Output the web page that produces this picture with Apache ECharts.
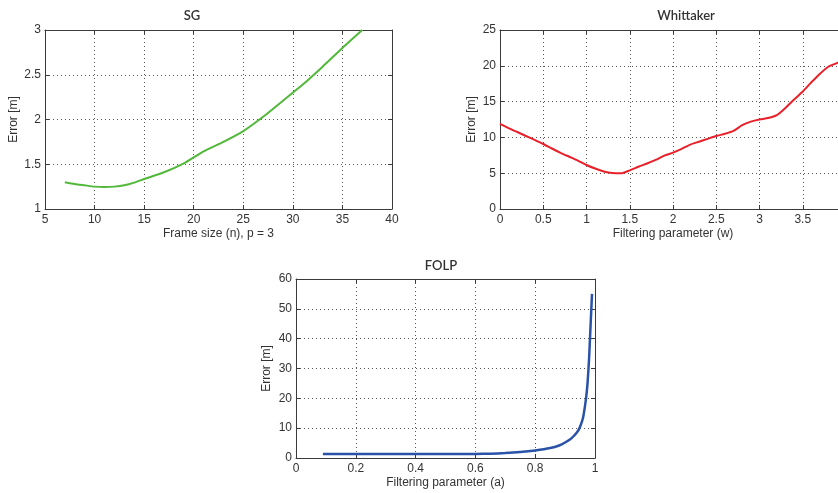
<!DOCTYPE html>
<html>
<head>
<meta charset="utf-8">
<script src="https://cdn.jsdelivr.net/npm/echarts@6/dist/echarts.min.js"></script>
<style>
  html, body { margin: 0; padding: 0; background: #fff; }
  #chart { width: 838px; height: 493px; }
</style>
</head>
<body>
<div id="chart"></div>
<script>
// Savitzky-Golay smoothing error vs. frame size (p = 3)
const sgFrame = [7, 8, 9, 10, 11, 12, 13, 14, 15, 17, 19, 21, 23, 25, 27, 29, 31, 33, 35, 37];
const sgError = [1.30, 1.28, 1.265, 1.25, 1.245, 1.25, 1.265, 1.295, 1.335, 1.41, 1.51, 1.645, 1.75, 1.87, 2.03, 2.21, 2.39, 2.59, 2.80, 3.00];

// Whittaker smoother error vs. filtering parameter w
const whW = [0, 0.1, 0.2, 0.3, 0.4, 0.5, 0.6, 0.7, 0.8, 0.9, 1.0, 1.1, 1.2, 1.3, 1.4, 1.5, 1.6, 1.7, 1.8, 1.9,
             2.0, 2.1, 2.2, 2.3, 2.4, 2.5, 2.6, 2.7, 2.8, 2.9, 3.0, 3.1, 3.2, 3.3, 3.4, 3.5, 3.6, 3.7, 3.8, 3.9, 4.0];
const whError = [11.9, 11.3, 10.75, 10.2, 9.65, 9.08, 8.45, 7.85, 7.3, 6.75, 6.15, 5.65, 5.25, 5.02, 4.98, 5.4, 5.9, 6.35, 6.85, 7.45,
                 7.87, 8.4, 9.0, 9.4, 9.8, 10.2, 10.5, 10.9, 11.7, 12.2, 12.5, 12.7, 13.1, 14.1, 15.3, 16.4, 17.7, 18.9, 19.9, 20.4, 21.0];

// First-order low-pass filter error vs. filtering parameter a
const folpA = [0.09, 0.2, 0.3, 0.4, 0.5, 0.6, 0.65, 0.7, 0.75, 0.8, 0.85, 0.88, 0.9, 0.92, 0.94, 0.95, 0.96, 0.97, 0.975, 0.98, 0.985, 0.99];
const folpError = [1.3, 1.3, 1.3, 1.3, 1.3, 1.35, 1.45, 1.65, 2.0, 2.55, 3.35, 4.2, 5.2, 6.5, 8.6, 10.5, 13.5, 20, 25, 33, 44, 55];

const titles = ['SG', 'Whittaker', 'FOLP'];
const xNames = ['Frame size (n), p = 3', 'Filtering parameter (w)', 'Filtering parameter (a)'];
const yName = 'Error [m]';

const FONT = 'Arial, "Liberation Sans", sans-serif';
const TEXT = '#333';
const AXIS = '#3a3a3a';

const grids = [
  { left: 45,  top: 30,  width: 347, height: 179 },
  { left: 500, top: 30,  width: 346, height: 179 },
  { left: 296, top: 279, width: 299, height: 179 }
].map(g => Object.assign({ outerBoundsMode: 'none', containLabel: false }, g));
const xRange = [
  { min: 5, max: 40, interval: 5 },
  { min: 0, max: 4, interval: 0.5 },
  { min: 0, max: 1, interval: 0.2 }
];
const yRange = [
  { min: 1, max: 3, interval: 0.5 },
  { min: 0, max: 25, interval: 5 },
  { min: 0, max: 60, interval: 10 }
];
const yNameGap = [25, 22, 23];
const titlePos = [[192, 16], [686, 16], [441, 266]];

const gridLine = { show: true, lineStyle: { color: '#555', type: [1, 3], width: 1 } };
const tickIn = { show: true, inside: true, length: 4, lineStyle: { color: AXIS } };
const line = { show: true, onZero: false, lineStyle: { color: AXIS, width: 1 } };
const label = { color: TEXT, fontFamily: FONT, fontSize: 12 };

const xAxis = [], yAxis = [];
for (let i = 0; i < 3; i++) {
  xAxis.push(Object.assign({
    type: 'value', gridIndex: i, position: 'bottom',
    axisLine: line, axisTick: tickIn, splitLine: gridLine,
    axisLabel: Object.assign({ margin: 5 }, label),
    name: xNames[i], nameLocation: 'middle', nameGap: 19,
    nameTextStyle: { color: TEXT, fontFamily: FONT, fontSize: 12 }
  }, xRange[i]));
  yAxis.push(Object.assign({
    type: 'value', gridIndex: i, position: 'left',
    axisLine: line, axisTick: tickIn, splitLine: gridLine,
    axisLabel: Object.assign({ margin: 4 }, label),
    name: yName, nameLocation: 'middle', nameGap: yNameGap[i],
    nameTextStyle: { color: TEXT, fontFamily: FONT, fontSize: 12 }
  }, yRange[i]));
}
// top / right frame edges with inward ticks
for (let i = 0; i < 3; i++) {
  xAxis.push(Object.assign({
    type: 'value', gridIndex: i, position: 'top',
    axisLine: line, axisTick: tickIn, splitLine: { show: false }, axisLabel: { show: false }
  }, xRange[i]));
  yAxis.push(Object.assign({
    type: 'value', gridIndex: i, position: 'right',
    axisLine: line, axisTick: tickIn, splitLine: { show: false }, axisLabel: { show: false }
  }, yRange[i]));
}

function pairs(xs, ys) { return xs.map((x, k) => [x, ys[k]]); }

const series = [
  { data: pairs(sgFrame, sgError), color: '#52b83a', width: 2 },
  { data: pairs(whW, whError), color: '#e8202a', width: 2 },
  { data: pairs(folpA, folpError), color: '#2a52a8', width: 2.5 }
].map((s, i) => ({
  type: 'line', xAxisIndex: i, yAxisIndex: i, data: s.data,
  showSymbol: false, symbol: 'none', clip: true, animation: false, smooth: 0.2,
  lineStyle: { color: s.color, width: s.width }, itemStyle: { color: s.color }
}));

const graphic = titles.map((t, i) => ({
  type: 'text', x: titlePos[i][0], y: titlePos[i][1],
  style: {
    text: t, fill: TEXT, align: 'center', verticalAlign: 'middle',
    font: '600 13px Lato, "Open Sans", sans-serif'
  }
}));

const chart = echarts.init(document.getElementById('chart'), null, { renderer: 'canvas' });
chart.setOption({
  animation: false,
  backgroundColor: '#fff',
  grid: grids,
  xAxis: xAxis,
  yAxis: yAxis,
  series: series,
  graphic: graphic
});
</script>
</body>
</html>
